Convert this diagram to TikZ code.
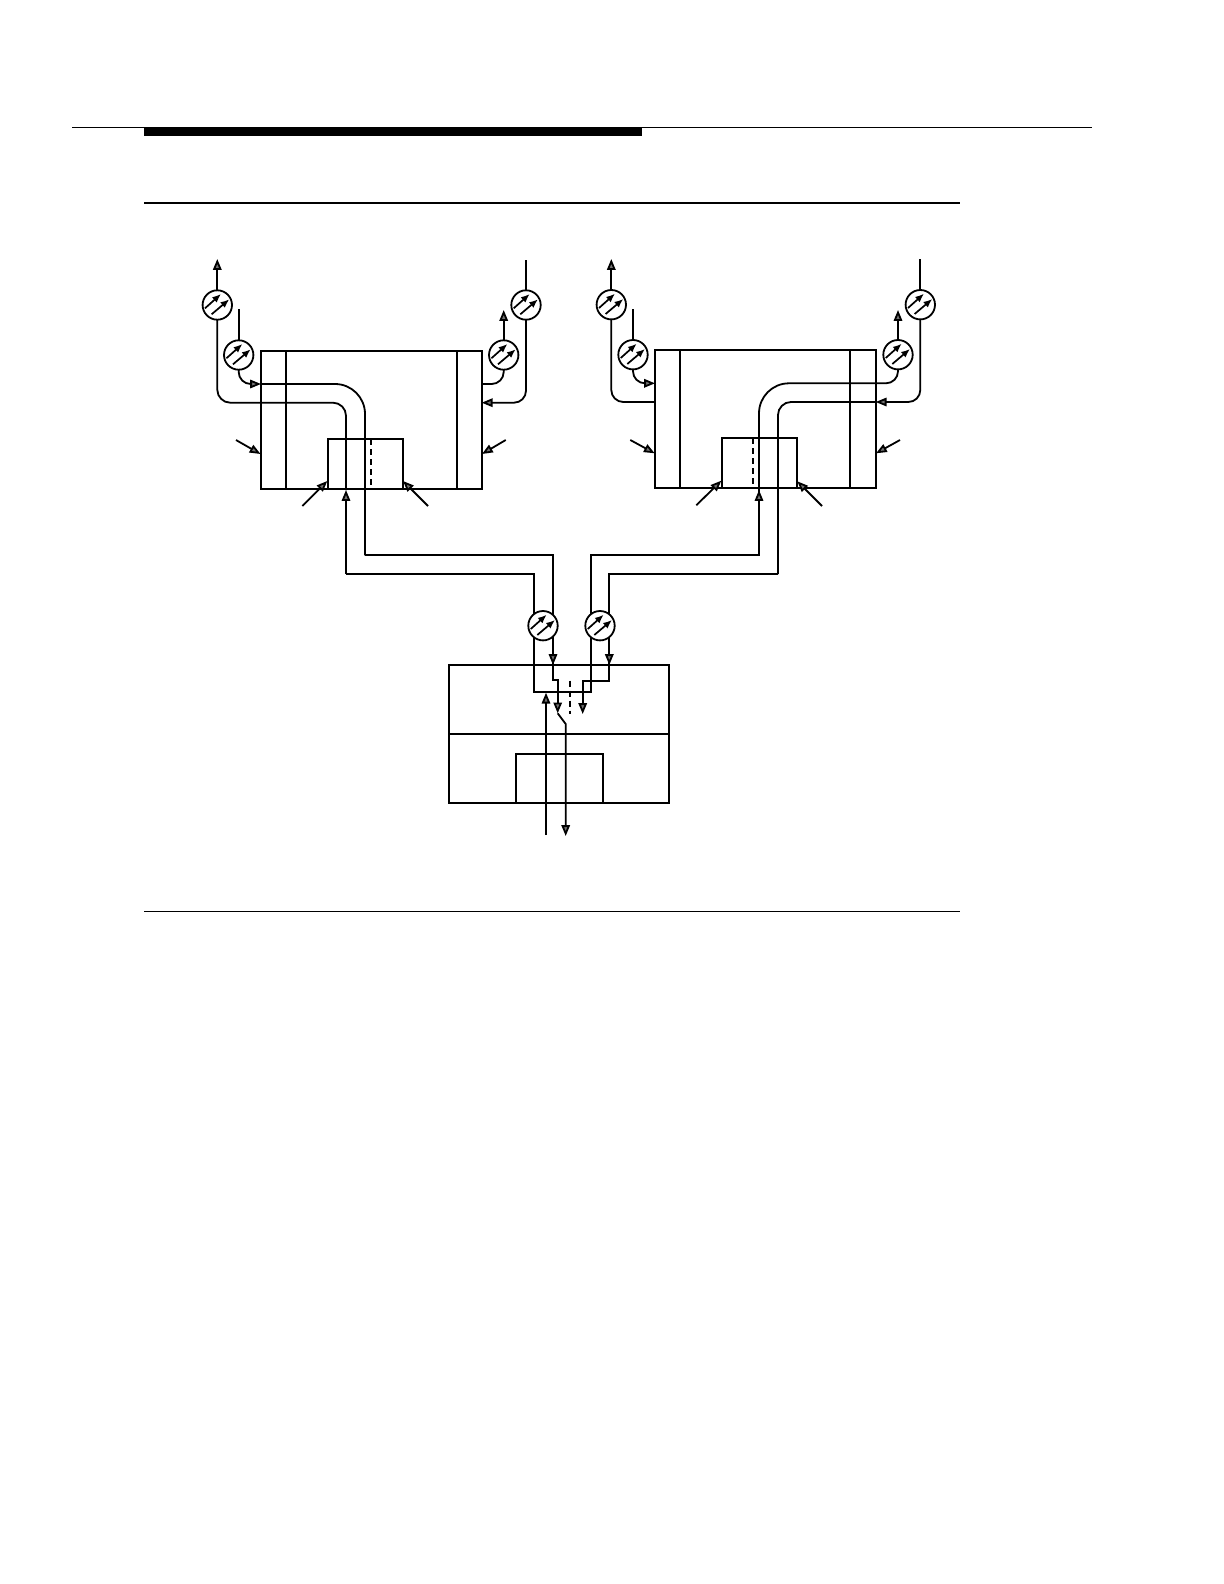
\documentclass[tikz,border=0pt]{standalone}
\usetikzlibrary{arrows.meta,backgrounds}
\tikzset{
	line/.style = {line width = 0.9pt},
	tip/.style = {line, -{Triangle[length = 5.4pt, width = 4.2pt, fill = black!55]}},
	lens/.style = {draw, circle, fill = white, line width = 0.9pt, minimum size = 14.7pt, inner sep = 0pt, outer sep = 0pt},
	block/.style = {draw, line width = 0.9pt, anchor = north west, inner sep = 0pt, outer sep = 0pt},
	ray/.style = {line width = 0.85pt, -{Latex[length = 4.4pt, width = 3.6pt]}}
}
\begin{document}
\begin{tikzpicture}[x = 0.5pt, y = -0.5pt]
	\useasboundingbox (0,0) rectangle (1224,1584);
	\draw[line width = 0.65pt] (72,127.3) -- (1092,127.3);
	\fill (144,127.3) rectangle (642,136);
	\draw[line width = 1.15pt] (144,203) -- (960,203);
	\draw[line width = 0.8pt] (144,911.3) -- (960,911.3);

	\node[block, minimum width = 110.35pt, minimum height = 69pt] (shelfA) at (261,350.7) {};
	\node[block, minimum width = 110.35pt, minimum height = 69.15pt] (shelfB) at (655,350) {};
	\node[block, minimum width = 37.65pt, minimum height = 24.85pt] (cardA) at (327.7,439) {};
	\node[block, minimum width = 37.8pt, minimum height = 25pt] (cardB) at (721.7,438.3) {};
	\node[block, minimum width = 110.15pt, minimum height = 69pt] (hub) at (449,665.3) {};
	\node[block, minimum width = 43.8pt, minimum height = 24.8pt] (hubCard) at (515.7,753.7) {};

	\draw[line] ([xshift = 12.65pt]shelfA.north west) -- ([xshift = 12.65pt]shelfA.south west);
	\draw[line] ([xshift = -12.5pt]shelfA.north east) -- ([xshift = -12.5pt]shelfA.south east);
	\draw[line] ([xshift = 12.5pt]shelfB.north west) -- ([xshift = 12.5pt]shelfB.south west);
	\draw[line] ([xshift = -12.7pt]shelfB.north east) -- ([xshift = -12.7pt]shelfB.south east);
	\draw[line] (hub.west) -- (hub.east);
	\draw[line, dash pattern = on 3pt off 2pt] (371,439) -- (371,488.7);
	\draw[line, dash pattern = on 3pt off 2pt] (753,438.3) -- (753,488.3);
	\draw[line, dash pattern = on 3pt off 2pt] (570,680.7) -- (570,714);

	\foreach \name/\x/\y in {lensA/217.3/305, lensB/238.7/355, lensC/526/305, lensD/503.7/355,
		lensE/611.3/304.7, lensF/633/354.7, lensG/920.3/304.7, lensH/898/354.7,
		lensI/543/625.7, lensJ/600/625.7}{
		\node[lens] (\name) at (\x,\y) {};
		\draw[ray] ([shift = {(-12.3,3.3)}]\name.center) -- ([shift = {(3.7,-11)}]\name.center);
		\draw[ray] ([shift = {(-5.7,9.3)}]\name.center) -- ([shift = {(12,-5.7)}]\name.center);
	}

	\coordinate (endA) at (217.3,259);
	\coordinate (endB) at (238.7,309);
	\coordinate (endC) at (526,260);
	\coordinate (endD) at (503.7,310);
	\coordinate (endE) at (611.3,259);
	\coordinate (endF) at (633,309);
	\coordinate (endG) at (920.3,259);
	\coordinate (endH) at (898,310);
	\coordinate (wallA) at (261,384);
	\coordinate (wallB) at (481.7,402.7);
	\coordinate (wallC) at (481.7,384);
	\coordinate (wallE) at (655,402);
	\coordinate (wallF) at (655,383.3);
	\coordinate (wallG) at (875.7,402);
	\coordinate (wallH) at (875.7,383.3);
	\coordinate (bendA) at (365,384);
	\coordinate (bendB) at (346,402.7);
	\coordinate (bendC) at (759,383.3);
	\coordinate (bendD) at (778,402);
	\coordinate (cardTipA) at (346,490);
	\coordinate (cardTipB) at (759,490);
	\coordinate (runA) at (365,555.3);
	\coordinate (runB) at (346,574);
	\coordinate (runC) at (534,574);
	\coordinate (runD) at (553,555.3);
	\coordinate (runE) at (591,555.3);
	\coordinate (runF) at (609.3,574);
	\coordinate (runG) at (759,555.3);
	\coordinate (runH) at (778,574);
	\coordinate (hubTipA) at (553,665);
	\coordinate (hubTipB) at (609.3,665);
	\coordinate (stepA) at (534,692);
	\coordinate (stepB) at (591,692);
	\coordinate (stepC) at (553,680);
	\coordinate (stepD) at (557.7,680);
	\coordinate (stepE) at (609.3,680.7);
	\coordinate (stepF) at (582.7,680.7);
	\coordinate (dropA) at (557.7,713.3);
	\coordinate (dropB) at (582.7,714);
	\coordinate (kinkA) at (565.7,724);
	\coordinate (lineOut) at (565.7,836);
	\coordinate (lineIn) at (546,835);
	\coordinate (lineTip) at (546,692.7);

	\begin{pgfonlayer}{background}
		\draw[tip] (lensA) -- (endA);
		\draw[line] (lensB) -- (endB);
		\draw[line] (lensC) -- (endC);
		\draw[tip] (lensD) -- (endD);
		\draw[tip] (lensE) -- (endE);
		\draw[line] (lensF) -- (endF);
		\draw[line] (lensG) -- (endG);
		\draw[tip] (lensH) -- (endH);
		\draw[tip, rounded corners = 6pt] (lensB) |- (wallA);
		\draw[tip, rounded corners = 6pt] (lensC) |- (wallB);
		\draw[line, rounded corners = 6pt] (lensD) |- (wallC);
		\draw[line, rounded corners = 6pt] (lensE) |- (wallE);
		\draw[tip, rounded corners = 6pt] (lensF) |- (wallF);
		\draw[tip, rounded corners = 6pt] (lensG) |- (wallG);
		\draw[line, rounded corners = 6pt] (lensH) |- (wallH);
		\draw[line, rounded corners = 15pt] (wallA) -- (bendA) -- (runA);
		\draw[line] (runA) -- (runD) -- (hubTipA);
		\draw[line, rounded corners = 6.5pt] (lensA) |- (bendB) -- (cardTipA);
		\draw[tip] (runB) -- (cardTipA);
		\draw[line] (runB) -- (runC) -- (stepA) -- (stepB) -- (runE) -- (runG) -- (cardTipB);
		\draw[tip] (runG) -- (cardTipB);
		\draw[line, rounded corners = 15pt] (wallH) -- (bendC) -- (cardTipB);
		\draw[line, rounded corners = 6.5pt] (wallG) -- (bendD) -- (runH);
		\draw[line] (runH) -- (runF) -- (hubTipB);
		\draw[tip] (runD) -- (hubTipA);
		\draw[tip] (runF) -- (hubTipB);
		\draw[tip] (hubTipA) -- (stepC) -- (stepD) -- (dropA);
		\draw[tip] (hubTipB) -- (stepE) -- (stepF) -- (dropB);
		\draw[tip] (dropA) -- (kinkA) -- (lineOut);
		\draw[tip] (lineIn) -- (lineTip);
	\end{pgfonlayer}

	\coordinate (pointA) at (236,440);
	\coordinate (pointB) at (260.5,454);
	\coordinate (pointC) at (505.7,440);
	\coordinate (pointD) at (482,454);
	\coordinate (pointE) at (302.3,506);
	\coordinate (pointF) at (327.3,481);
	\coordinate (pointG) at (428,506);
	\coordinate (pointH) at (403,481);
	\coordinate (pointI) at (630.3,440);
	\coordinate (pointJ) at (654.7,453.3);
	\coordinate (pointK) at (900,440);
	\coordinate (pointL) at (876,453.3);
	\coordinate (pointM) at (696.3,505.3);
	\coordinate (pointN) at (721.3,480.7);
	\coordinate (pointO) at (822,506);
	\coordinate (pointP) at (797.3,481.3);
	\foreach \from/\to in {pointA/pointB, pointC/pointD, pointE/pointF, pointG/pointH,
		pointI/pointJ, pointK/pointL, pointM/pointN, pointO/pointP}{
		\draw[tip] (\from) -- (\to);
	}
\end{tikzpicture}
\end{document}
